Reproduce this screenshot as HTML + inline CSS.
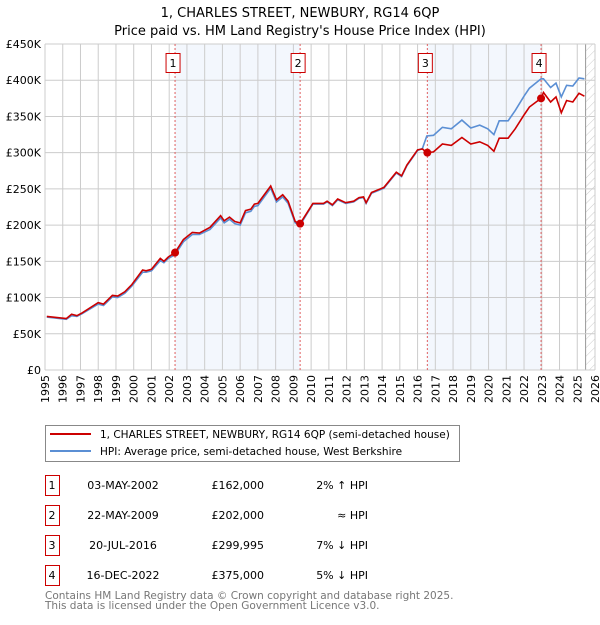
<!DOCTYPE html>
<html><head><meta charset="utf-8"><style>
body{margin:0;background:#fff;font-family:"Liberation Sans","DejaVu Sans",sans-serif;}
svg text{font-family:"DejaVu Sans","Liberation Sans",sans-serif;}
</style></head><body>
<svg id="c" width="600" height="620" xmlns="http://www.w3.org/2000/svg">
<defs><pattern id="hatch" width="6" height="6" patternUnits="userSpaceOnUse" patternTransform="rotate(45)"><line x1="0" y1="0" x2="0" y2="6" stroke="#ccc" stroke-width="1"/></pattern></defs>
<text x="300" y="17" text-anchor="middle" font-size="13">1, CHARLES STREET, NEWBURY, RG14 6QP</text>
<text x="300" y="35" text-anchor="middle" font-size="13">Price paid vs. HM Land Registry's House Price Index (HPI)</text>
<g id="plot"></g>
<g>
<rect x="45.5" y="425.5" width="414" height="36" fill="#fff" stroke="#888"/>
<line x1="50" y1="434" x2="91" y2="434" stroke="#cc0000" stroke-width="2"/>
<text x="100" y="438" font-size="10.5">1, CHARLES STREET, NEWBURY, RG14 6QP (semi-detached house)</text>
<line x1="50" y1="451" x2="91" y2="451" stroke="#5b8fd4" stroke-width="2"/>
<text x="100" y="455" font-size="10.5">HPI: Average price, semi-detached house, West Berkshire</text>
</g>
<g id="table" font-size="11"></g>
<text x="45" y="599" font-size="10.5" fill="#777">Contains HM Land Registry data © Crown copyright and database right 2025.</text>
<text x="45" y="609" font-size="10.5" fill="#777">This data is licensed under the Open Government Licence v3.0.</text>
</svg>
<script>
const years=[1995,1996,1997,1998,1999,2000,2001,2002,2003,2004,2005,2006,2007,2008,2009,2010,2011,2012,2013,2014,2015,2016,2017,2018,2019,2020,2021,2022,2023,2024,2025,2026];
const yTicks=[0,50,100,150,200,250,300,350,400,450];
const yTickLabels=["£0","£50K","£100K","£150K","£200K","£250K","£300K","£350K","£400K","£450K"];
const redDates=[1995.1,1996.2,1996.5,1996.8,1997.1,1998.0,1998.3,1998.8,1999.1,1999.5,1999.9,2000.5,2000.7,2001.0,2001.5,2001.7,2001.95,2002.33,2002.8,2003.3,2003.7,2004.3,2004.9,2005.1,2005.4,2005.7,2006.0,2006.3,2006.6,2006.8,2007.0,2007.72,2008.05,2008.4,2008.7,2009.1,2009.38,2010.1,2010.7,2010.9,2011.2,2011.5,2011.95,2012.4,2012.7,2012.95,2013.1,2013.4,2014.1,2014.8,2015.1,2015.4,2016.0,2016.28,2016.52,2016.9,2017.4,2017.9,2018.5,2019.0,2019.5,2019.95,2020.3,2020.6,2021.1,2021.5,2022.0,2022.3,2022.96,2023.1,2023.5,2023.8,2024.1,2024.4,2024.75,2025.1,2025.4];
const redValues=[74,71,77,75,79,93,91,103,102,108,118,138,137,139,154,150,156,162,180,190,189,197,213,206,211,205,203,220,222,229,230,254,235,242,233,205,202,230,230,233,228,236,231,233,238,239,231,245,252,273,268,283,304,305,300,301,312,310,321,312,315,310,302,320,320,333,352,363,375,383,370,377,355,372,370,382,378];
const hpiDates=[1995.1,1996.2,1996.5,1996.8,1997.1,1998.0,1998.3,1998.8,1999.1,1999.5,1999.9,2000.5,2000.7,2001.0,2001.5,2001.7,2001.95,2002.33,2002.8,2003.3,2003.7,2004.3,2004.9,2005.1,2005.4,2005.7,2006.0,2006.3,2006.6,2006.8,2007.0,2007.72,2008.05,2008.4,2008.7,2009.1,2009.38,2010.1,2010.7,2010.9,2011.2,2011.5,2011.95,2012.4,2012.7,2012.95,2013.1,2013.4,2014.1,2014.8,2015.1,2015.4,2016.0,2016.28,2016.52,2016.9,2017.4,2017.9,2018.5,2019.0,2019.5,2019.95,2020.3,2020.6,2021.1,2021.5,2022.0,2022.3,2022.96,2023.1,2023.5,2023.8,2024.1,2024.4,2024.75,2025.1,2025.4];
const hpiValues=[73,70,75,74,78,91,89,101,100,106,116,135,135,137,151,148,154,159,177,187,187,194,210,203,208,202,200,217,219,226,227,251,232,239,230,203,200,229,229,232,227,235,230,232,237,238,230,244,251,272,267,282,303,306,323,324,335,333,345,334,338,333,325,344,344,358,378,389,402,402,390,396,377,393,392,403,402];
const saleDates=[2002.33,2009.38,2016.55,2022.96];
const saleValues=[162,202,299.995,375];
const saleLabels=["1","2","3","4"];
const saleDateText=["03-MAY-2002","22-MAY-2009","20-JUL-2016","16-DEC-2022"];
const salePriceText=["£162,000","£202,000","£299,995","£375,000"];
const saleHpiText=["2% ↑ HPI","≈ HPI","7% ↓ HPI","5% ↓ HPI"];

const X0=45,X1=595,Y0=370,Y1=44;
const xs=t=>X0+(t-1995)/(2026-1995)*(X1-X0);
const ys=v=>Y0-v/450*(Y0-Y1);
const NS="http://www.w3.org/2000/svg";
function mk(tag,attrs,parent){const e=document.createElementNS(NS,tag);for(const k in attrs)e.setAttribute(k,attrs[k]);parent.appendChild(e);return e;}
const g=document.getElementById('plot');
for(let i=0;i<4;i+=2){const r=mk('rect',{x:xs(saleDates[i]),y:Y1,width:xs(saleDates[i+1])-xs(saleDates[i]),height:Y0-Y1,fill:'#f3f7fd'},g);

}
const hx=xs(2025.47);
const hr=mk('rect',{x:hx,y:Y1,width:X1-hx,height:Y0-Y1,fill:'url(#hatch)'},g);


mk('line',{x1:hx,y1:Y1,x2:hx,y2:Y0,stroke:'#999','stroke-width':1},g);
years.forEach(y=>{const l=mk('line',{x1:xs(y),y1:Y1,x2:xs(y),y2:Y0,stroke:'#ccc','stroke-width':1},g);


const t=mk('text',{x:0,y:0,'font-size':11,'text-anchor':'end',transform:`translate(${xs(y)+4},${Y0+5}) rotate(-90)`},g);t.textContent=y;

});
yTicks.forEach((v,i)=>{const l=mk('line',{x1:X0,y1:ys(v),x2:X1,y2:ys(v),stroke:'#ccc','stroke-width':1},g);


const t=mk('text',{x:X0-4,y:ys(v)+4,'font-size':11,'text-anchor':'end'},g);t.textContent=yTickLabels[i];

});
saleDates.forEach((d,i)=>{const l=mk('line',{x1:xs(d),y1:Y1,x2:xs(d),y2:Y0,stroke:'#e06060','stroke-width':1,'stroke-dasharray':'2,2'},g);


const b=mk('rect',{x:xs(d)-9,y:53.5,width:14,height:19,fill:'#fff',stroke:'#c00','stroke-width':1},g);


const t=mk('text',{x:xs(d)-2,y:67,'font-size':11,'text-anchor':'middle'},g);t.textContent=saleLabels[i];

});
const path=(D,V)=>D.map((d,i)=>(i?'L':'M')+xs(d).toFixed(1)+','+ys(V[i]).toFixed(1)).join('');
const hp=mk('path',{d:path(hpiDates,hpiValues),fill:'none',stroke:'#5b8fd4','stroke-width':1.6},g);


const rp=mk('path',{d:path(redDates,redValues),fill:'none',stroke:'#cc0000','stroke-width':1.6},g);


saleDates.forEach((d,i)=>{const c=mk('circle',{cx:xs(d),cy:ys(saleValues[i]),r:4,fill:'#cc0000'},g);

});
const tb=document.getElementById('table');
saleDates.forEach((d,i)=>{const y=483+i*30;
const b=mk('rect',{x:45.5,y:y-7.5,width:14,height:20,fill:'#fff',stroke:'#c00'},tb);


const cells=[[52,saleLabels[i],'middle'],[123,saleDateText[i],'middle'],[264,salePriceText[i],'end'],[368,saleHpiText[i],'end']];
cells.forEach(c=>{const t=mk('text',{x:c[0],y:y+6,'text-anchor':c[2]},tb);t.textContent=c[1];

});});
</script>
</body></html>
